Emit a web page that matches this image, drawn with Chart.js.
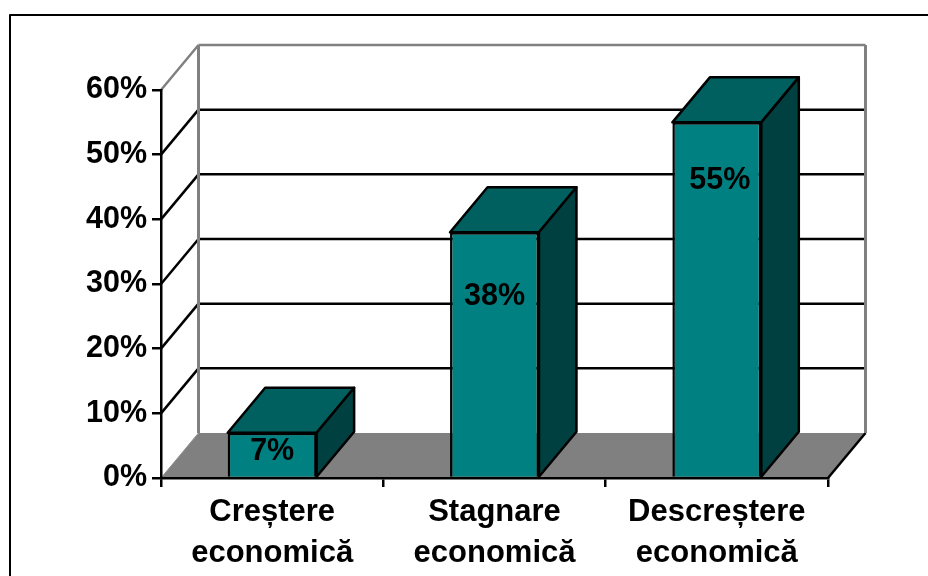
<!DOCTYPE html>
<html lang="ro">
<head>
  <meta charset="UTF-8" />
  <title>Crestere economica</title>
  <script src="https://cdn.jsdelivr.net/npm/chart.js"></script>
  <style>
    body { margin: 0; background: #fff; overflow: hidden; }
    canvas { display: block; }
  </style>
</head>
<body>
  <canvas id="chart" width="928" height="576"></canvas>

  <script>
    const categories = [["Creștere", "economică"], ["Stagnare", "economică"], ["Descreștere", "economică"]];
    const values = [7, 38, 55];
    const tickValues = [0, 10, 20, 30, 40, 50, 60];

    // how far the 3D box goes back, in pixels
    const depthX = 37.5;
    const depthY = 45;
    // where the value labels sit relative to the top of each bar
    const labelDown = [19, 64, 58];
    const labelRight = [0, 0, 3];
    const font = "bold 30.5px 'Liberation Sans', Arial, sans-serif";

    function poly(ctx, pts, fill, stroke, width) {
      ctx.beginPath();
      pts.forEach((p, i) => i ? ctx.lineTo(p[0], p[1]) : ctx.moveTo(p[0], p[1]));
      ctx.closePath();
      if (fill) { ctx.fillStyle = fill; ctx.fill(); }
      if (stroke) { ctx.strokeStyle = stroke; ctx.lineWidth = width; ctx.stroke(); }
    }

    function line(ctx, x1, y1, x2, y2, color, width) {
      ctx.beginPath();
      ctx.moveTo(x1, y1);
      ctx.lineTo(x2, y2);
      ctx.strokeStyle = color;
      ctx.lineWidth = width;
      ctx.stroke();
    }

    const box3d = {
      id: "box3d",
      beforeDraw(chart) {
        const ctx = chart.ctx;
        const a = chart.chartArea;
        const y = chart.scales.y;
        ctx.save();
        ctx.lineJoin = "round";

        // outer frame, runs off the page on the right and bottom
        ctx.strokeStyle = "#000";
        ctx.lineWidth = 2;
        ctx.strokeRect(10, 15, 940, 600);

        // floor
        poly(ctx, [[a.left, a.bottom], [a.right, a.bottom], [a.right + depthX, a.bottom - depthY], [a.left + depthX, a.bottom - depthY]], "#808080");
        line(ctx, a.right, a.bottom, a.right + depthX, a.bottom - depthY, "#000", 2.5);

        // grid lines on side and back wall
        tickValues.forEach(v => {
          if (v === 0) return;
          const py = y.getPixelForValue(v);
          const color = v === 60 ? "#808080" : "#000";
          line(ctx, a.left, py, a.left + depthX, py - depthY, color, 2.5);
          line(ctx, a.left + depthX, py - depthY, a.right + depthX, py - depthY, color, 2.5);
        });

        // back wall edges
        line(ctx, a.left + depthX, a.top - depthY, a.left + depthX, a.bottom - depthY, "#808080", 3);
        line(ctx, a.right + depthX, a.top - depthY, a.right + depthX, a.bottom - depthY, "#808080", 3);
        line(ctx, a.left, a.bottom, a.left + depthX, a.bottom - depthY, "#909090", 1);
        ctx.restore();
      },
      afterDatasetsDraw(chart) {
        const ctx = chart.ctx;
        ctx.save();
        ctx.lineJoin = "round";
        chart.getDatasetMeta(0).data.forEach((bar, i) => {
          const left = bar.x - bar.width / 2;
          const right = bar.x + bar.width / 2;
          const top = bar.y;
          const base = bar.base;
          // top face
          poly(ctx, [[left, top], [right, top], [right + depthX, top - depthY], [left + depthX, top - depthY]], "#006060", "#000", 2.5);
          // side face
          poly(ctx, [[right, top], [right + depthX, top - depthY], [right + depthX, base - depthY], [right, base]], "#004040", "#000", 2.5);

          ctx.fillStyle = "#000";
          ctx.font = font;
          ctx.textAlign = "center";
          ctx.textBaseline = "middle";
          ctx.fillText(values[i] + "%", bar.x + labelRight[i], top + labelDown[i]);
        });
        ctx.restore();
      }
    };

    const axisFont = { family: "'Liberation Sans', Arial, sans-serif", weight: "bold" };

    new Chart(document.getElementById("chart").getContext("2d"), {
      type: "bar",
      data: {
        labels: categories,
        datasets: [{
          data: values,
          backgroundColor: "#008080",
          borderColor: "#000",
          borderWidth: 2.5,
          barPercentage: 0.8,
          categoryPercentage: 0.5
        }]
      },
      plugins: [box3d],
      options: {
        responsive: false,
        animation: false,
        layout: { padding: { top: 90, right: 100, left: 0, bottom: 0 } },
        plugins: { legend: { display: false }, tooltip: { enabled: false } },
        scales: {
          x: {
            afterFit(s) { s.height = 98; },
            border: { color: "#000", width: 2.5 },
            grid: { drawOnChartArea: false, color: "#000", lineWidth: 2.5, tickLength: 9 },
            ticks: { color: "#000", font: { ...axisFont, size: 31, lineHeight: 1.33 }, maxRotation: 0, autoSkip: false, padding: 5 }
          },
          y: {
            min: 0,
            max: 60,
            afterFit(s) { s.width = 161; },
            afterBuildTicks(s) { s.ticks = tickValues.map(v => ({ value: v })); },
            border: { color: "#000", width: 2.5 },
            grid: { drawOnChartArea: false, color: "#000", lineWidth: 2.5, tickLength: 9 },
            ticks: { color: "#000", font: { ...axisFont, size: 30.5 }, padding: 5, callback: v => v + "%" }
          }
        }
      }
    });
  </script>
</body>
</html>
